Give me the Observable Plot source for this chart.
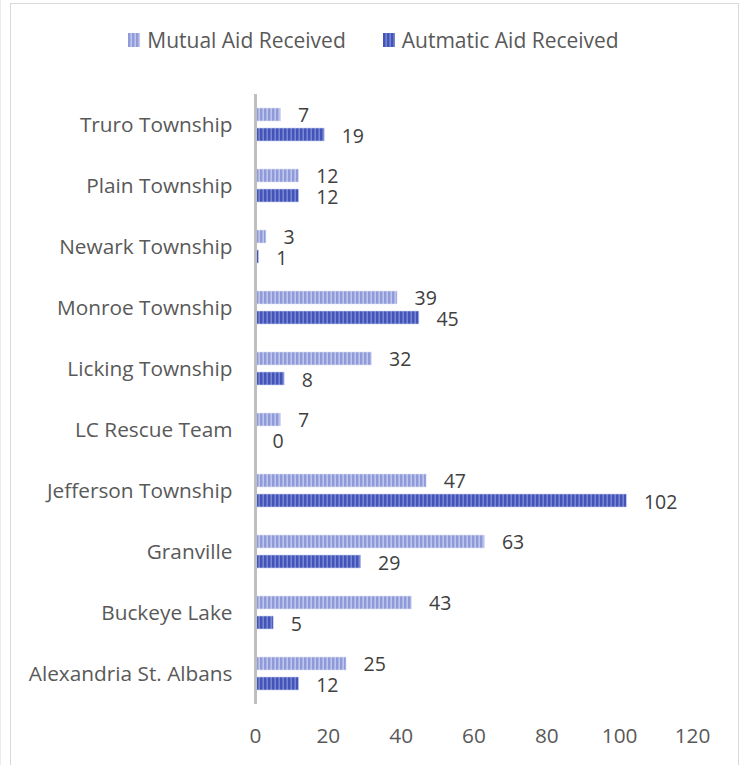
<!DOCTYPE html>
<html>
<head>
<meta charset="utf-8">
<script src="https://cdn.jsdelivr.net/npm/d3@7"></script>
<script src="https://cdn.jsdelivr.net/npm/@observablehq/plot@0.6"></script>
<style>
  html, body { margin: 0; padding: 0; background: #fff; overflow: hidden; width: 747px; height: 765px; }
  #wrap { position: relative; width: 747px; height: 765px; font-family: "Open Sans", "Liberation Sans", sans-serif; color: #595959; }
  #frame { position: absolute; left: 10px; top: 3px; width: 729px; height: 800px; border: 1px solid #d9d9d9; box-sizing: border-box; }
  #edge { position: absolute; left: 0px; top: 0px; width: 1px; height: 765px; background: #ececec; }
  #legend { position: absolute; left: 0; top: 27px; width: 747px; display: flex; justify-content: center; gap: 37px; font-size: 21px; line-height: 26px; color: #595959; z-index: 2; }
  .item { display: flex; align-items: center; }
  .sw { width: 12px; height: 14px; margin-right: 7px; }
  #chart { position: absolute; left: 0; top: 0; }
</style>
</head>
<body>
<div id="wrap">
  <div id="edge"></div>
  <div id="frame"></div>
  <div id="legend"></div>
  <div id="chart"></div>
</div>
<script>
const categories = ["Truro Township","Plain Township","Newark Township","Monroe Township","Licking Township","LC Rescue Team","Jefferson Township","Granville","Buckeye Lake","Alexandria St. Albans"];
const mutualAid = [7,12,3,39,32,7,47,63,43,25];
const automaticAid = [19,12,1,45,8,0,102,29,5,12];
const seriesNames = ["Mutual Aid Received","Autmatic Aid Received"];
const xTicks = [0,20,40,60,80,100,120];

const rows = [];
categories.forEach((c, i) => {
  rows.push({category: c, series: seriesNames[0], value: mutualAid[i]});
  rows.push({category: c, series: seriesNames[1], value: automaticAid[i]});
});

const patterns = {
  [seriesNames[0]]: {id: "patMutual", a: "#8f9ad9", b: "#bfc6ec"},
  [seriesNames[1]]: {id: "patAuto", a: "#4354b8", b: "#7886d2"}
};

const svgDefs = `<defs>${Object.values(patterns).map(p =>
  `<pattern id="${p.id}" patternUnits="userSpaceOnUse" width="4" height="4"><rect width="4" height="4" fill="${p.b}"/><rect width="2.4" height="4" fill="${p.a}"/></pattern>`).join("")}</defs>`;

// legend
const legend = document.getElementById("legend");
seriesNames.forEach(s => {
  const p = patterns[s];
  legend.insertAdjacentHTML("beforeend",
    `<div class="item"><svg class="sw" width="12" height="14">${svgDefs}<rect width="12" height="14" fill="url(#${p.id})"/></svg><span>${s}</span></div>`);
});

const chart = Plot.plot({
  width: 747,
  height: 765,
  marginLeft: 255,
  marginRight: 55,
  marginTop: 93,
  marginBottom: 60,
  style: {fontFamily: "Open Sans, Liberation Sans, sans-serif", fontSize: "20.8px", color: "#595959", background: "transparent"},
  x: {domain: [0, 120], ticks: xTicks, tickSize: 0, tickPadding: 24, label: null},
  fy: {domain: categories, padding: 0, label: null, tickSize: 0, tickPadding: 23},
  y: {domain: seriesNames, axis: null, paddingInner: 0.35, paddingOuter: 0.7},
  facet: {marginRight: 0},
  marks: [
    Plot.barX(rows.filter(d => d.series === seriesNames[0]), {x: "value", y: "series", fy: "category", fill: `url(#${patterns[seriesNames[0]].id})`, stroke: "#dfe3f6", strokeWidth: 0.6}),
    Plot.barX(rows.filter(d => d.series === seriesNames[1]), {x: "value", y: "series", fy: "category", fill: `url(#${patterns[seriesNames[1]].id})`, stroke: "#c9cff0", strokeWidth: 0.6}),
    Plot.ruleX([0], {stroke: "#bfbfbf", strokeWidth: 3}),
    Plot.text(rows.filter(d => d.series === seriesNames[0]), {x: "value", y: "series", fy: "category", text: d => String(d.value), textAnchor: "start", dx: 17, dy: 1, fill: "#404040", fontSize: 19.5}),
    Plot.text(rows.filter(d => d.series === seriesNames[1]), {x: "value", y: "series", fy: "category", text: d => String(d.value), textAnchor: "start", dx: 17, dy: 2, fill: "#404040", fontSize: 19.5})
  ]
});
chart.insertAdjacentHTML("afterbegin", svgDefs);
document.getElementById("chart").appendChild(chart);
</script>
</body>
</html>
